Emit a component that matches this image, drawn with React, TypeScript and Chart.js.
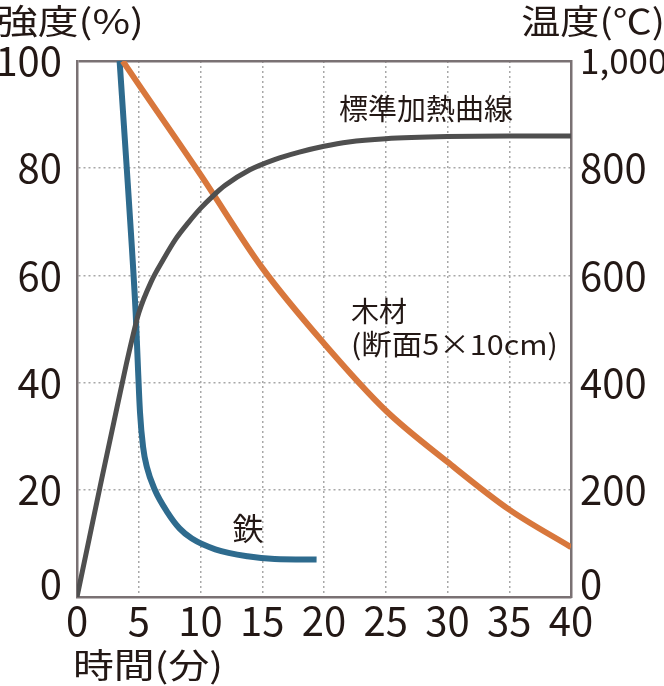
import { useEffect, useRef } from "react";
import { Chart, registerables, type Plugin } from "chart.js";

Chart.register(...registerables);

// 時間(分)
const ironTime = [3.45, 4, 4.45, 4.75, 4.95, 5.1, 5.35, 5.65, 6.3, 7.35, 8.3, 9.3, 11.2, 13.8, 16, 19.4];
// 強度(%)
const ironStrength = [100, 81, 65, 53, 42, 34.5, 28, 24.3, 20, 15.7, 12.8, 10.9, 8.9, 7.6, 7.1, 7];

const woodTime = [3.7, 5, 10, 15, 20, 25, 30, 35, 40];
const woodStrength = [100, 95.6, 78.8, 61.4, 47.3, 34.8, 25.2, 16.3, 9.3];

// 温度(℃)
const heatTime = [0, 1, 2, 3, 4, 4.5, 5, 6, 7, 8, 9, 10, 11, 12, 14, 16, 18, 20, 22, 25, 30, 35, 40];
const heatTemp = [0, 110, 220, 328, 435, 485, 530, 588, 630, 668, 698, 725, 748, 768, 797, 816, 830, 841, 849, 855, 859, 860, 860];

const xTicks = [0, 5, 10, 15, 20, 25, 30, 35, 40];
const strengthTicks = [0, 20, 40, 60, 80, 100];
const tempTicks = [0, 200, 400, 600, 800, 1000];

const FONT = "'Noto Sans CJK JP', 'Noto Sans', sans-serif";
const INK = "#231815";
const AXIS = "#7a7173";
const GRID = "#a8a8a8";

type Label = { text: string; x: number; y: number; size: number; sx: number; align: CanvasTextAlign };

const labels: Label[] = [
  { text: "強度(%)", x: -3, y: 21, size: 34, sx: 1.2, align: "left" },
  { text: "温度(℃)", x: 665, y: 21, size: 34, sx: 1.15, align: "right" },
  { text: "時間(分)", x: 73, y: 665, size: 34, sx: 1.2, align: "left" },
  { text: "標準加熱曲線", x: 339, y: 109, size: 29, sx: 1, align: "left" },
  { text: "木材", x: 351, y: 311, size: 28, sx: 1, align: "left" },
  { text: "(断面5×10cm)", x: 351, y: 344, size: 28, sx: 1.09, align: "left" },
  { text: "鉄", x: 248, y: 528, size: 31, sx: 1, align: "center" },
];

const textPlugin: Plugin<"line"> = {
  id: "texts",
  afterDraw(chart) {
    const ctx = chart.ctx;
    ctx.save();
    ctx.fillStyle = INK;
    ctx.textBaseline = "middle";
    for (const l of labels) {
      ctx.save();
      ctx.font = `${l.size}px ${FONT}`;
      ctx.textAlign = l.align;
      ctx.translate(l.x, l.y);
      ctx.scale(l.sx, 1);
      ctx.fillText(l.text, 0, 0);
      ctx.restore();
    }
    ctx.restore();
  },
};

const pts = (xs: number[], ys: number[]) => xs.map((x, i) => ({ x, y: ys[i] }));

// the "0" labels sit a little above the x axis: two lines, the 2nd empty
const yLabel = (v: number | string, text: string) => (Number(v) === 0 ? [text, ""] : text);
const yFont = (c: any) => ({
  family: FONT,
  size: 40,
  lineHeight: c.tick && c.tick.value === 0 ? "26px" : 1.2,
});

export default function App() {
  const canvasRef = useRef<HTMLCanvasElement>(null);

  useEffect(() => {
    if (!canvasRef.current) return;
    const chart = new Chart(canvasRef.current, {
      type: "line",
      data: {
        datasets: [
          {
            label: "標準加熱曲線",
            data: pts(heatTime, heatTemp),
            yAxisID: "y1",
            borderColor: "#4f4f4f",
            borderWidth: 5,
            pointRadius: 0,
            cubicInterpolationMode: "monotone",
          },
          {
            label: "木材",
            data: pts(woodTime, woodStrength),
            yAxisID: "y",
            borderColor: "#d8773c",
            borderWidth: 6,
            pointRadius: 0,
            cubicInterpolationMode: "monotone",
          },
          {
            label: "鉄",
            data: pts(ironTime, ironStrength),
            yAxisID: "y",
            borderColor: "#2e6b8e",
            borderWidth: 6,
            pointRadius: 0,
            cubicInterpolationMode: "monotone",
          },
        ],
      },
      options: {
        animation: false,
        responsive: true,
        maintainAspectRatio: false,
        layout: { padding: { top: 61, left: 0, right: 0, bottom: 0 } },
        plugins: { legend: { display: false }, tooltip: { enabled: false } },
        scales: {
          x: {
            type: "linear",
            min: 0,
            max: 40,
            afterFit: (s) => {
              s.height = 89;
            },
            afterBuildTicks: (s) => {
              s.ticks = xTicks.map((value) => ({ value }));
            },
            grid: {
              drawTicks: false,
              lineWidth: 1.5,
              color: (c) => (c.tick && (c.tick.value === 0 || c.tick.value === 40) ? "rgba(0,0,0,0)" : GRID),
            },
            border: { color: AXIS, width: 2.5, dash: [2, 3] },
            ticks: { color: INK, font: { family: FONT, size: 40 }, padding: 0, maxRotation: 0 },
          },
          y: {
            type: "linear",
            position: "left",
            min: 0,
            max: 100,
            afterFit: (s) => {
              s.width = 77;
            },
            afterBuildTicks: (s) => {
              s.ticks = strengthTicks.map((value) => ({ value }));
            },
            grid: {
              drawTicks: false,
              lineWidth: (c) => (c.tick && c.tick.value === 100 ? 2.5 : 1.5),
              color: (c) => {
                if (!c.tick) return GRID;
                if (c.tick.value === 0) return "rgba(0,0,0,0)";
                if (c.tick.value === 100) return AXIS;
                return GRID;
              },
            },
            border: {
              color: AXIS,
              width: 2.5,
              dash: (c: any) => (c.tick && c.tick.value === 100 ? [] : [2, 3]),
            },
            ticks: {
              color: INK,
              font: yFont,
              padding: 15,
              callback: (v) => yLabel(v, String(v)),
            },
          },
          y1: {
            type: "linear",
            position: "right",
            min: 0,
            max: 1000,
            afterFit: (s) => {
              s.width = 93;
            },
            afterBuildTicks: (s) => {
              s.ticks = tempTicks.map((value) => ({ value }));
            },
            grid: { drawOnChartArea: false, drawTicks: false },
            border: { color: AXIS, width: 2.5 },
            ticks: {
              color: INK,
              font: (c) => ({ ...yFont(c), size: c.tick && c.tick.value === 1000 ? 35 : 40 }),
              padding: 9,
              callback: (v) => yLabel(v, Number(v).toLocaleString("en-US")),
            },
          },
        },
      },
      plugins: [textPlugin],
    });
    return () => chart.destroy();
  }, []);

  return (
    <div style={{ position: "fixed", left: 0, top: 0, width: 664, height: 686, background: "#fff" }}>
      <canvas ref={canvasRef} />
    </div>
  );
}
